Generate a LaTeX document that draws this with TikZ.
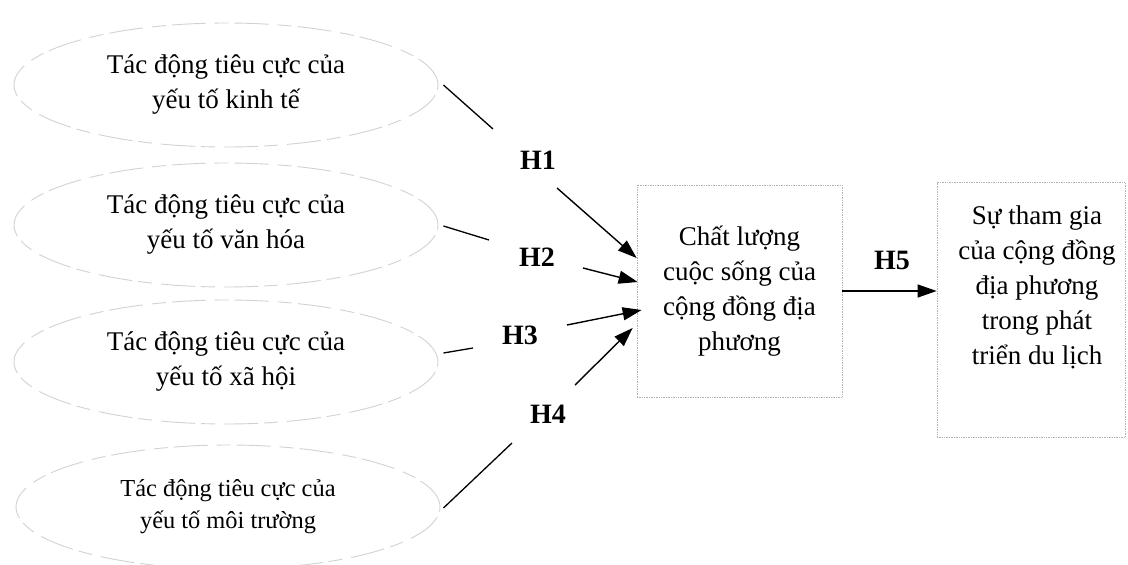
\documentclass[tikz,border=0pt]{standalone}
\usepackage{fontspec}
\setmainfont{Liberation Serif}
\usetikzlibrary{arrows.meta,shapes.geometric}
\begin{document}
\begin{tikzpicture}[x=1pt,y=-1pt,
  ell/.style={ellipse, draw=gray!35, line width=0.9pt,
    dash pattern=on 34pt off 6pt on 14pt off 9pt,
    minimum width=424pt, minimum height=124pt, inner sep=0pt,
    align=center, font=\fontsize{27}{35}\selectfont},
  boxnode/.style={rectangle, draw=gray!60, line width=0.7pt, densely dotted,
    inner sep=0pt, align=center, font=\fontsize{27}{35}\selectfont},
  txt/.style={align=center, inner sep=0pt, font=\fontsize{27}{35}\selectfont},
  hyp/.style={inner sep=0pt, font=\fontsize{28}{30}\selectfont\bfseries},
  conn/.style={line width=1.3pt, draw=black},
  arr/.style={line width=1.4pt, draw=black, -{Triangle[length=19pt,width=13pt]}}]
\useasboundingbox (0,0) rectangle (1128,565);
\fill[white] (0,0) rectangle (1128,565);

% ellipses
\node[ell] (e1) at (226,85) {Tác động tiêu cực của\\yếu tố kinh tế};
\node[ell] (e2) at (226,225) {Tác động tiêu cực của\\yếu tố văn hóa};
\node[ell] (e3) at (226,362) {Tác động tiêu cực của\\yếu tố xã hội};
\node[ell, font=\fontsize{24.4}{32}\selectfont] (e4) at (228,507) {Tác động tiêu cực của\\yếu tố môi trường};

% boxes
\node[boxnode, minimum width=205pt, minimum height=212pt] (b1) at (739.5,291)
  {Chất lượng\\cuộc sống của\\cộng đồng địa\\phương};
\node[boxnode, minimum width=188pt, minimum height=255pt] (b2) at (1031,310) {};
\node[txt] (b2t) at (1037,287) {Sự tham gia\\của cộng đồng\\địa phương\\trong phát\\triển du lịch};

% hypothesis labels
\node[hyp] (h1) at (538,160) {H1};
\node[hyp] (h2) at (537,257) {H2};
\node[hyp] (h3) at (520,335) {H3};
\node[hyp] (h4) at (548,414) {H4};
\node[hyp] (h5) at (892,260) {H5};

% free ends near the labels
\coordinate (c1) at (493,129);
\coordinate (c2) at (489,240);
\coordinate (c3) at (473,348);
\coordinate (c4) at (512,443);
\coordinate (a1) at (557,188);
\coordinate (a2) at (583,268);
\coordinate (a3) at (567,325);
\coordinate (a4) at (575,385);

% lines from ellipses
\draw[conn] ([xshift=5pt]e1.east) -- (c1);
\draw[conn] ([xshift=5pt,yshift=-1pt]e2.east) -- (c2);
\draw[conn] ([xshift=5pt,yshift=9pt]e3.east) -- (c3);
\draw[conn] ([xshift=3pt,yshift=-1pt]e4.east) -- (c4);

% arrows into quality box
\draw[arr] (a1) -- ([yshift=33pt]b1.west);
\draw[arr] (a2) -- ([xshift=1pt,yshift=9pt]b1.west);
\draw[arr] (a3) -- ([xshift=5pt,yshift=-19pt]b1.west);
\draw[arr] (a4) -- ([xshift=-4pt,yshift=-37pt]b1.west);

% H5 arrow
\draw[arr, line width=1.2pt] (b1.east) -- (b2.west |- b1.east);
\end{tikzpicture}
\end{document}
